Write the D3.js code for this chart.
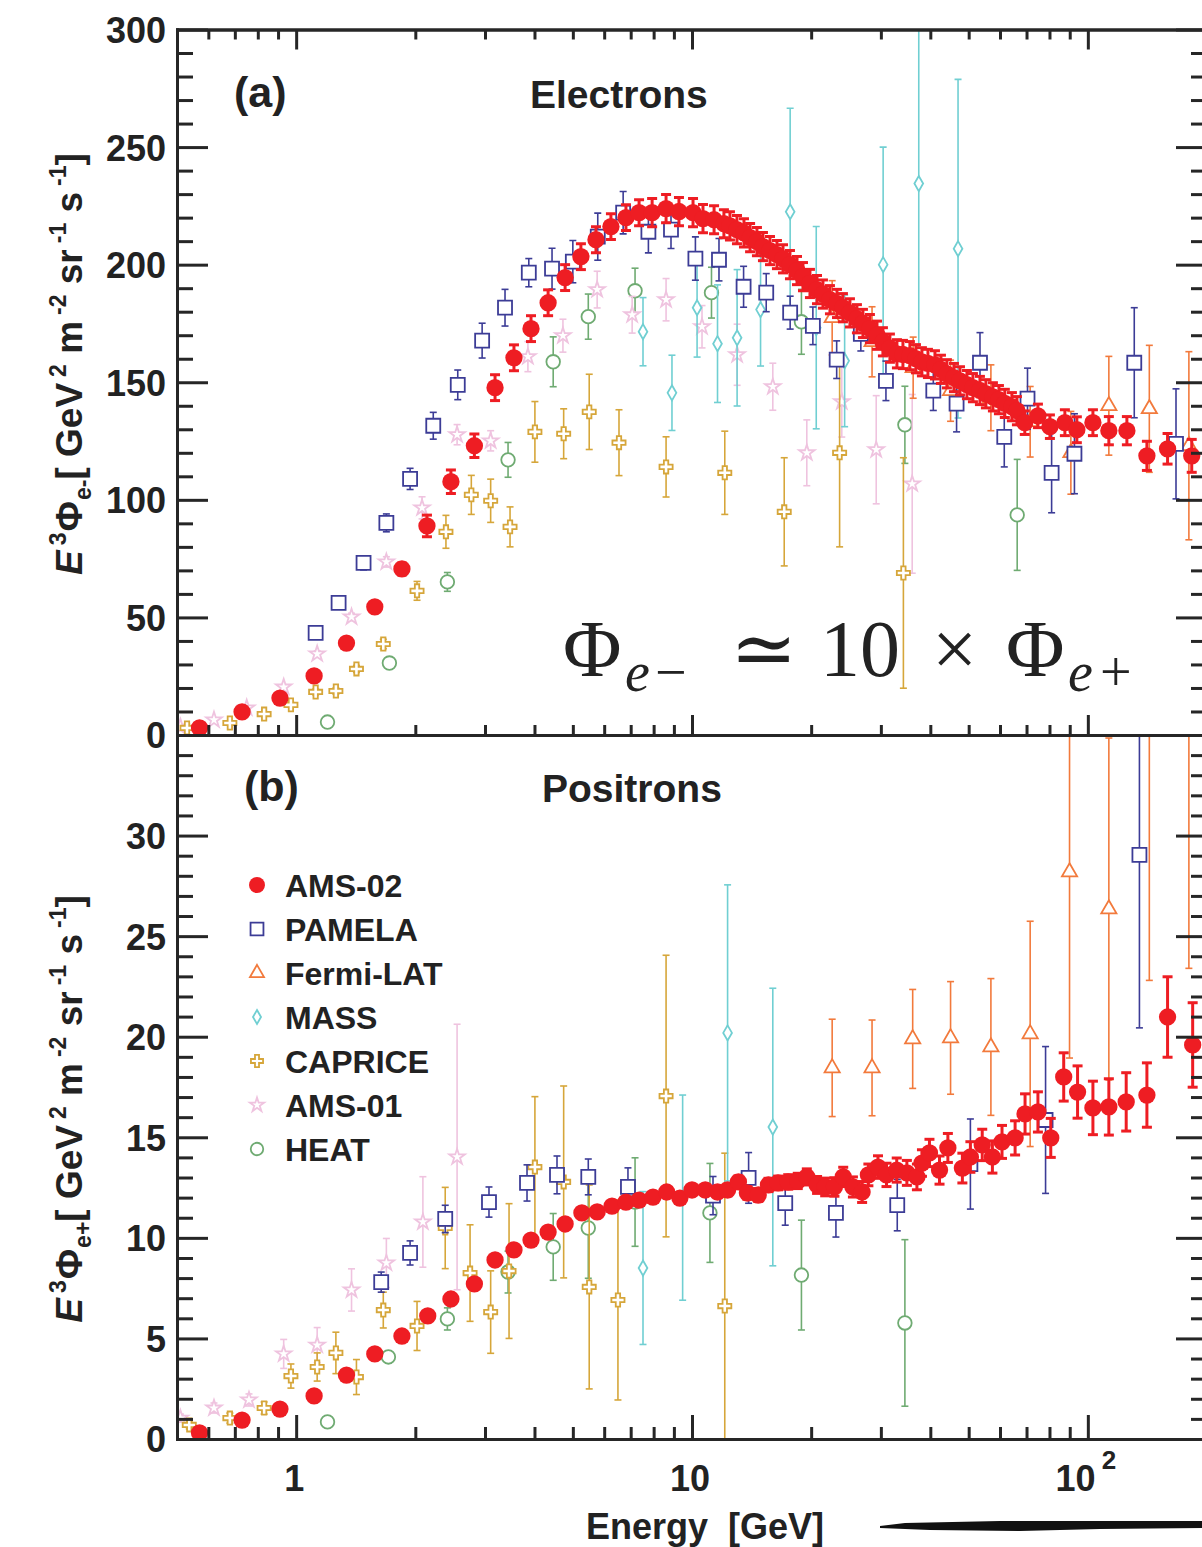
<!DOCTYPE html>
<html lang="en">
<head>
<meta charset="UTF-8"/>
<title>Electron and positron fluxes</title>
<script src="https://d3js.org/d3.v7.min.js"></script>
<style>
  body { margin: 0; background: #fff; }
  svg { display: block; }
  text { font-family: "Liberation Sans", Arial, sans-serif; font-weight: bold; fill: #222; white-space: pre; }
</style>
</head>
<body>
<script>
// ---------------- data (E in GeV, E^3 * flux) ----------------
// electrons, panel (a)
var eAms02E = [0.57,0.73,0.91,1.11,1.34,1.58,1.85,2.14,2.46,2.82,3.18,3.55,3.92,4.33,4.78,5.24,5.72,6.24,6.81,7.35,7.93,8.60,9.27,10.06,10.66,11.37,12.04,12.47,12.99,13.53,14.02,14.59,15.11,15.74,16.39,16.98,17.68,18.42,19.07,19.86,20.69,21.42,22.31,23.24,24.06,25.06,26.10,27.03,28.15,29.33,30.36,31.62,32.94,34.11,35.52,36.79,38.09,39.45,41.09,42.55,44.05,45.89,47.53,49.49,51.25,53.38,55.27,57.57,59.62,61.70,64.29,66.2,69.3,74.8,80.2,87.5,93.8,103,113,125.5,141,159,183];
var eAms02V = [3.0,9.8,15.7,25.1,39.1,54.5,70.6,88.9,107.7,123.0,147.7,160.4,172.8,183.8,194.5,203.4,210.6,216.2,220.0,222.1,222.1,223.8,222.6,222.1,219.6,219.1,217.4,216.5,214.9,213.5,211.5,209.8,207.7,206.0,204.3,202.5,200.0,197.5,194.9,192.0,189.4,187.5,185.1,183.5,181.7,179.5,177.0,175.0,172.8,170.0,167.2,164.5,162.1,161.8,161.3,160.0,158.7,158.0,157.4,155.5,153.6,152.0,150.6,149.0,147.7,146.5,145.1,143.8,142.6,141.0,139.6,137.9,132.8,135.7,131.1,132.8,129.8,132.8,129.4,129.4,118.7,121.7,118.7];
var eAms02Err = [0.5,0.6,0.8,1,1.3,1.6,2.5,4.6,5,5,
    5.5,5.5,5.5,5.5,5.5,5.5,5.5,5.5,5.5,5.5,
    6,6,6,6,6,6,6,6,6,6, 6,6,6,6,6,6,6,6,6,6, 6,6,6,6,6,6,6,6,6,6, 6,6,6,6,6,6,6,6,6,6,
    6,6,6,6,6,6,6,6,6,6,6,6,
    5,5,5,5.5,5.5,5.5,6,6,6.2,6.5,7];

var ePamE = [1.12,1.28,1.48,1.69,1.94,2.22,2.56,2.95,3.37,3.87,4.43,5.0,5.78,6.7,7.76,8.85,10.2,11.7,13.5,15.4,17.7,20.2,23.2,26.7,30.9,40.7,46.6,53.4,61.5,70.4,81,92.5,131,167];
var ePamV = [43.4,56.2,73.2,90.2,108.9,131.5,148.9,167.7,181.7,196.6,198.3,201.3,211.9,222.1,214.0,214.9,202.6,202.1,190.6,188.1,179.6,174.0,159.6,170.6,150.6,146.4,140.9,158.3,126.8,143.0,111.5,119.6,158.3,123.8];
var ePamErr = [1.5,2,3,3.8,4.5,5.7,6.3,7.4,7.8,6,8.7,9,10,9,9,8,9.2,9,8.7,8.1,7,8,8,7.3,8.4,8.4,12,12.8,12.8,13,17,17,23.4,23.4];

var eFermiE = [22.6,28.5,36.2,45.0,56.9,71.5,90.6,113,143,180];
var eFermiV = [177.4,167.2,156.2,146.4,143.4,133.2,120.0,140.0,138.7,123.0];
var eFermiErr = [15.8,14.9,13,13,14,15,17.6,21,27,40];

var eMassE = [7.52,8.9,10.3,11.6,13.0,14.9,17.7,20.6,24.3,30.4,37.4,47.0];
var eMassV = [171.5,145.5,181.7,166.4,168.9,180.9,222.5,173.2,159.1,200.0,234.5,206.8];
var eMassErr = [14.5,16,21,25,29,24,44,43,28,50,70,72];

var eCapE = [0.53,0.68,0.83,0.97,1.12,1.26,1.42,1.66,2.02,2.39,2.77,3.1,3.47,4.01,4.74,5.5,6.54,8.6,12.1,17.1,23.6,34.2];
var eCapV = [3.0,5.1,8.9,12.8,18.3,18.7,28.1,38.7,61.3,86.4,102.1,99.6,88.5,128.9,128.1,137.4,124.3,114.0,111.5,94.9,120.0,68.9];
var eCapErr = [0.5,0.6,0.8,1,1.2,1.3,1.5,2,4,7,8.3,9.2,8.5,12.9,10.6,16,14,12.8,17.7,23,40,49];

var eAms01E = [0.51,0.62,0.75,0.93,1.13,1.38,1.69,2.08,2.55,3.1,3.85,4.72,5.76,7.06,8.6,10.6,13.0,16.0,19.5,23.9,29.2,36.0];
var eAms01V = [3.4,6.4,11.5,20.4,34.5,50.2,73.6,96.6,127.7,125.1,160.9,169.8,189.4,178.7,185.1,173.6,161.7,148.1,120.0,141.7,121.3,106.8];
var eAms01Err = [0.5,0.6,0.8,1,1.3,1.6,2.2,4.7,4.3,4.3,6.4,7,7.8,7.8,9,9,13,10,14,15,23,38];

var eHeatE = [1.2,1.72,2.41,3.43,4.46,5.47,7.18,11.2,18.9,34.5,66.3];
var eHeatV = [5.5,30.6,65.1,117.0,158.7,177.9,188.9,188.1,175.7,131.9,93.6];
var eHeatErr = [0.5,1.5,4,7.4,10.6,9.6,9.6,10.8,13.8,16.4,23.6];

// positrons, panel (b)
var pAms02E = [0.57,0.73,0.91,1.11,1.34,1.58,1.85,2.15,2.46,2.82,3.18,3.55,3.92,4.33,4.78,5.27,5.76,6.28,6.81,7.35,7.97,8.63,9.32,10.0,10.8,11.6,12.3,13.1,13.8,14.7,15.6,16.5,17.5,18.5,19.5,20.7,21.7,22.9,24.1,25.5,26.9,27.9,29.5,31.0,32.9,34.9,37.0,38.1,39.8,42.2,44.3,48.2,50.5,54.1,57.4,60.7,65.5,69.4,74.8,80.6,86.9,94.2,103,113,125,141,159,184];
var pAms02V = [0.30,0.94,1.49,2.14,3.18,4.23,5.12,6.12,6.96,7.71,8.90,9.40,9.89,10.29,10.69,11.24,11.29,11.58,11.78,11.88,12.03,12.28,11.98,12.38,12.38,12.28,12.38,12.78,12.23,12.13,12.63,12.73,12.78,12.83,13.03,12.63,12.53,12.53,13.03,12.53,12.28,13.13,13.52,13.13,13.37,13.23,13.03,13.72,14.22,13.37,14.47,13.47,14.02,14.62,14.02,14.77,14.97,16.16,16.26,14.97,18.0,17.25,16.46,16.51,16.76,17.1,20.98,19.59];
var pAms02Err = [0.05,0.05,0.06,0.07,0.08,0.09,0.1,0.11,0.12,0.13,0.14,0.15,0.16,0.17,0.18,0.19,0.2,0.2,0.21,0.22,0.23,0.24,0.25,0.26,0.27,0.28,0.29,0.3,0.31,0.32,0.33,0.34,0.36,0.38,0.4,0.42,0.44,0.46,0.48,0.5,0.52,0.54,0.56,0.58,0.6,0.62,0.64,0.66,0.68,0.7,0.72,0.74,0.76,0.78,0.8,0.82,0.85,1.0,1.0,0.97,1.2,1.3,1.33,1.4,1.45,1.6,2.0,2.1];

var pPamE = [1.64,1.94,2.38,3.07,3.83,4.56,5.47,6.89,11.3,13.9,17.2,23.1,33.0,50.5,78.2,135];
var pPamV = [7.8,9.25,10.94,11.78,12.73,13.13,13.03,12.53,12.1,12.98,11.73,11.24,11.63,13.67,15.86,29.04];
var pPamErr = [0.5,0.6,0.68,0.75,0.9,0.94,0.89,0.95,0.95,1.26,1.1,1.2,1.28,2.24,3.65,8.6];

var pFermiE = [22.6,28.5,36.1,45.0,56.9,71.5,89.9,113,143,180];
var pFermiV = [18.45,18.45,19.89,19.94,19.49,20.14,28.19,26.35,37,40];
var pFermiErr = [2.42,2.38,2.46,2.8,3.4,5.6,9.25,8.5,14.2,16.6];

var pMassE = [7.52,9.47,12.3,16.0];
var pMassV = [8.5,12.0,20.19,15.51];
var pMassErr = [3.8,5.1,7.36,6.9];

var pCapE = [0.537,0.68,0.83,0.97,1.13,1.26,1.42,1.66,2.02,2.38,2.75,3.1,3.45,4.01,4.74,5.5,6.5,8.6,12.1];
var pCapV = [0.70,1.04,1.54,3.13,3.58,4.28,3.08,6.41,5.62,10.49,8.25,6.31,8.35,13.52,12.78,7.56,6.91,17.05,6.61];
var pCapErr = [0.2,0.25,0.3,0.6,0.7,1.03,0.87,0.89,1.22,2.02,2.4,2.05,3.35,3.5,4.77,5.07,4.97,7.0,7.6];

var pAms01E = [0.51,0.62,0.76,0.93,1.13,1.38,1.69,2.09,2.55];
var pAms01V = [1.04,1.54,1.94,4.23,4.67,7.41,8.75,10.79,14.02];
var pAms01Err = [0.2,0.25,0.3,0.72,0.87,1.05,1.22,2.25,6.6];

var pHeatE = [1.2,1.71,2.41,3.43,4.46,5.47,7.18,11.1,18.9,34.5];
var pHeatV = [0.85,4.08,5.97,8.30,9.55,10.49,11.78,11.24,8.15,5.77];
var pHeatErr = [0.2,0.3,0.55,1.04,1.66,2.5,2.2,2.46,2.73,4.14];

// axis ticks
var xMajor = [1, 10, 100];
var xMinor = [0.6,0.7,0.8,0.9,2,3,4,5,6,7,8,9,20,30,40,50,60,70,80,90,200];
var yAMajor = [0,50,100,150,200,250,300];
var yAMinor = d3.range(0, 301, 10).filter(function (d) { return d % 50 != 0; });
var yBMajor = [0,5,10,15,20,25,30];
var yBMinor = d3.range(0, 36, 1).filter(function (d) { return d % 5 != 0; });

// ---------------- layout ----------------
var w = 1202, h = 1547;
var left = 177, right = 1207;
var topA = 29.5, mid = 735, botB = 1439;
var ink = "#262626";

var x = d3.scaleLog().domain([0.5, 200]).range([left, right]);
var yA = d3.scaleLinear().domain([0, 300]).range([mid, topA]);
var yB = d3.scaleLinear().domain([0, 35]).range([botB, mid]);

var svg = d3.select("body").append("svg").attr("width", w).attr("height", h);

// series styles (legend order)
var series = [
    { name: "AMS-02",    color: "#ee1d23", sym: d3.symbolCircle,   size: 235, fill: true,  eE: eAms02E, eV: eAms02V, eErr: eAms02Err, pE: pAms02E, pV: pAms02V, pErr: pAms02Err },
    { name: "PAMELA",    color: "#3c3c96", sym: d3.symbolSquare,   size: 196, fill: false, eE: ePamE,   eV: ePamV,   eErr: ePamErr,   pE: pPamE,   pV: pPamV,   pErr: pPamErr },
    { name: "Fermi-LAT", color: "#f27a3c", sym: d3.symbolTriangle, size: 100, fill: false, eE: eFermiE, eV: eFermiV, eErr: eFermiErr, pE: pFermiE, pV: pFermiV, pErr: pFermiErr },
    { name: "MASS",      color: "#70cfd2", sym: d3.symbolDiamond,  size: 66,  fill: false, eE: eMassE,  eV: eMassV,  eErr: eMassErr,  pE: pMassE,  pV: pMassV,  pErr: pMassErr },
    { name: "CAPRICE",   color: "#d6a63a", sym: d3.symbolCross,    size: 96,  fill: false, eE: eCapE,   eV: eCapV,   eErr: eCapErr,   pE: pCapE,   pV: pCapV,   pErr: pCapErr },
    { name: "AMS-01",    color: "#efc3df", sym: d3.symbolStar,     size: 75,  fill: false, eE: eAms01E, eV: eAms01V, eErr: eAms01Err, pE: pAms01E, pV: pAms01V, pErr: pAms01Err },
    { name: "HEAT",      color: "#6fab72", sym: d3.symbolCircle,   size: 145, fill: false, eE: eHeatE,  eV: eHeatV,  eErr: eHeatErr,  pE: pHeatE,  pV: pHeatV,  pErr: pHeatErr }
];

// clip paths
var defs = svg.append("defs");
defs.append("clipPath").attr("id", "clipA").append("rect")
    .attr("x", left).attr("y", topA).attr("width", right - left).attr("height", mid - topA);
defs.append("clipPath").attr("id", "clipB").append("rect")
    .attr("x", left).attr("y", mid).attr("width", right - left).attr("height", botB - mid);

//draw one series with error bars
function drawSeries(g, s, E, V, Err, y) {
    var pts = E.map(function (e, i) { return { e: e, v: V[i], err: Err[i] }; });
    var big = s.fill;
    var cap = big ? 5 : 3.5;
    var gg = g.append("g").attr("stroke", s.color).attr("stroke-width", big ? 3 : 1.6);
    gg.selectAll("line.bar").data(pts).enter().append("line")
        .attr("x1", function (d) { return x(d.e); }).attr("x2", function (d) { return x(d.e); })
        .attr("y1", function (d) { return y(d.v - d.err); }).attr("y2", function (d) { return y(d.v + d.err); });
    gg.selectAll("line.capT").data(pts).enter().append("line")
        .attr("x1", function (d) { return x(d.e) - cap; }).attr("x2", function (d) { return x(d.e) + cap; })
        .attr("y1", function (d) { return y(d.v + d.err); }).attr("y2", function (d) { return y(d.v + d.err); });
    gg.selectAll("line.capB").data(pts).enter().append("line")
        .attr("x1", function (d) { return x(d.e) - cap; }).attr("x2", function (d) { return x(d.e) + cap; })
        .attr("y1", function (d) { return y(d.v - d.err); }).attr("y2", function (d) { return y(d.v - d.err); });
    g.selectAll(null).data(pts).enter().append("path")
        .attr("d", d3.symbol().type(s.sym).size(s.size))
        .attr("transform", function (d) { return "translate(" + x(d.e) + "," + y(d.v) + ")"; })
        .attr("fill", big ? s.color : "#fff")
        .attr("stroke", big ? "none" : s.color)
        .attr("stroke-width", 1.8);
}

var gA = svg.append("g").attr("clip-path", "url(#clipA)");
var gB = svg.append("g").attr("clip-path", "url(#clipB)");
for (var i = series.length - 1; i >= 0; i--) {
    drawSeries(gA, series[i], series[i].eE, series[i].eV, series[i].eErr, yA);
    drawSeries(gB, series[i], series[i].pE, series[i].pV, series[i].pErr, yB);
}

// ---------------- axes / frames ----------------
function styleAxis(g) {
    g.selectAll("path.domain").attr("stroke", ink).attr("stroke-width", 3).attr("stroke-linecap", "square");
    g.selectAll(".tick line").attr("stroke", ink).attr("stroke-width", 3);
    g.attr("font-family", null).attr("font-size", null);
    g.selectAll(".tick text").style("font-size", "36px").attr("fill", ink);
}
function add(axis, tx, ty) {
    var g = svg.append("g").attr("transform", "translate(" + tx + "," + ty + ")").call(axis.tickSizeOuter(0));
    styleAxis(g);
    return g;
}
// panel a
add(d3.axisLeft(yA).tickValues(yAMajor).tickSize(-31).tickPadding(11), left, 0);
add(d3.axisLeft(yA).tickValues(yAMinor).tickSize(-16).tickFormat(""), left, 0);
add(d3.axisRight(yA).tickValues(yAMajor).tickSize(-31).tickFormat(""), right, 0);
add(d3.axisRight(yA).tickValues(yAMinor).tickSize(-16).tickFormat(""), right, 0);
add(d3.axisTop(x).tickValues(xMajor).tickSize(-20).tickFormat(""), 0, topA);
add(d3.axisTop(x).tickValues(xMinor).tickSize(-10).tickFormat(""), 0, topA);
add(d3.axisBottom(x).tickValues(xMajor).tickSize(-20).tickFormat(""), 0, mid);
add(d3.axisBottom(x).tickValues(xMinor).tickSize(-10).tickFormat(""), 0, mid);
// panel b
add(d3.axisLeft(yB).tickValues(yBMajor).tickSize(-31).tickPadding(11), left, 0);
add(d3.axisLeft(yB).tickValues(yBMinor).tickSize(-16).tickFormat(""), left, 0);
add(d3.axisRight(yB).tickValues(yBMajor).tickSize(-31).tickFormat(""), right, 0);
add(d3.axisRight(yB).tickValues(yBMinor).tickSize(-16).tickFormat(""), right, 0);
add(d3.axisBottom(x).tickValues(xMajor).tickSize(-24).tickFormat(""), 0, botB);
add(d3.axisBottom(x).tickValues(xMinor).tickSize(-12).tickFormat(""), 0, botB);

// y tick labels vertical centring
svg.selectAll(".tick text").attr("dy", "0.36em");

// x tick labels
var xl = svg.selectAll("text.xl").data(xMajor).enter().append("text")
    .attr("x", function (d) { return x(d) - 2; })
    .attr("y", 1491)
    .attr("text-anchor", "middle")
    .style("font-size", "36px");
xl.append("tspan").text(function (d) { return d == 100 ? "10" : String(d); });
xl.filter(function (d) { return d == 100; }).append("tspan")
    .attr("dx", 6).attr("dy", -22).style("font-size", "26px").text("2");

// ---------------- texts ----------------
svg.append("text").attr("x", 234).attr("y", 107).style("font-size", "43px").text("(a)");
svg.append("text").attr("x", 244).attr("y", 801).style("font-size", "43px").text("(b)");
svg.append("text").attr("x", 530).attr("y", 108).style("font-size", "39px").text("Electrons");
svg.append("text").attr("x", 542).attr("y", 802).style("font-size", "39px").text("Positrons");
svg.append("text").attr("x", 705).attr("y", 1539).attr("text-anchor", "middle")
    .style("font-size", "36px").text("Energy  [GeV]");

// rotated y labels with super/subscripts: [text, shift, size, gap before]
function yLabel(cx, cy, sub) {
    var parts = [["E", 0, 37, 0], ["3", -16, 23, 5], ["\u03a6", 0, 37, 1], [sub, 9, 23, 1], ["[ GeV", 0, 37, 0], ["2", -16, 23, 6],
                 [" m", 0, 37, 0], ["-2", -16, 23, 6], [" sr", 0, 37, 0], ["-1", -16, 23, 6], [" s", 0, 37, 0], ["-1", -16, 23, 6], ["]", 0, 37, 0]];
    var t = svg.append("text").attr("transform", "translate(" + cx + "," + cy + ") rotate(-90)")
        .attr("text-anchor", "middle");
    var cur = 0;
    parts.forEach(function (p, k) {
        var ts = t.append("tspan").attr("dy", p[1] - cur).attr("dx", p[3]).style("font-size", p[2] + "px").text(p[0]);
        if (k == 0) ts.style("font-style", "italic");
        cur = p[1];
    });
}
yLabel(82, 364, "e-");
yLabel(82, 1109, "e+");

// legend
var leg = svg.append("g");
series.forEach(function (s, i) {
    var cy = 885 + i * 44;
    leg.append("path")
        .attr("d", d3.symbol().type(s.sym).size(s.fill ? 200 : s.size * 0.85))
        .attr("transform", "translate(257," + cy + ")")
        .attr("fill", s.fill ? s.color : "#fff")
        .attr("stroke", s.fill ? "none" : s.color)
        .attr("stroke-width", 1.8);
    leg.append("text").attr("x", 285).attr("y", cy + 11.5).style("font-size", "32px").text(s.name);
});

// formula annotation
var serif = "'Liberation Serif', 'DejaVu Serif', serif";
function ftext(xx, yy, size, str, italic) {
    svg.append("text").attr("x", xx).attr("y", yy).text(str)
        .style("font-family", serif).style("font-weight", "normal").style("font-size", size + "px")
        .style("font-style", italic ? "italic" : "normal").attr("fill", "#111");
}
ftext(563, 676, 80, "\u03a6");
ftext(625, 691, 56, "e", true);
ftext(655, 691, 56, "\u2212");
ftext(730, 676, 80, "\u2243");
ftext(820, 676, 80, "10");
ftext(932, 676, 80, "\u00d7");
ftext(1006, 676, 80, "\u03a6");
ftext(1068, 691, 56, "e", true);
ftext(1100, 691, 56, "+");

// brush stroke below the axis title
svg.append("path")
    .attr("d", "M880,1526 L905,1523 L1000,1521 L1100,1521 L1202,1521 L1202,1528 L1100,1529 L1020,1531 L930,1530 L880,1528 Z")
    .attr("fill", "#111");
</script>
</body>
</html>
